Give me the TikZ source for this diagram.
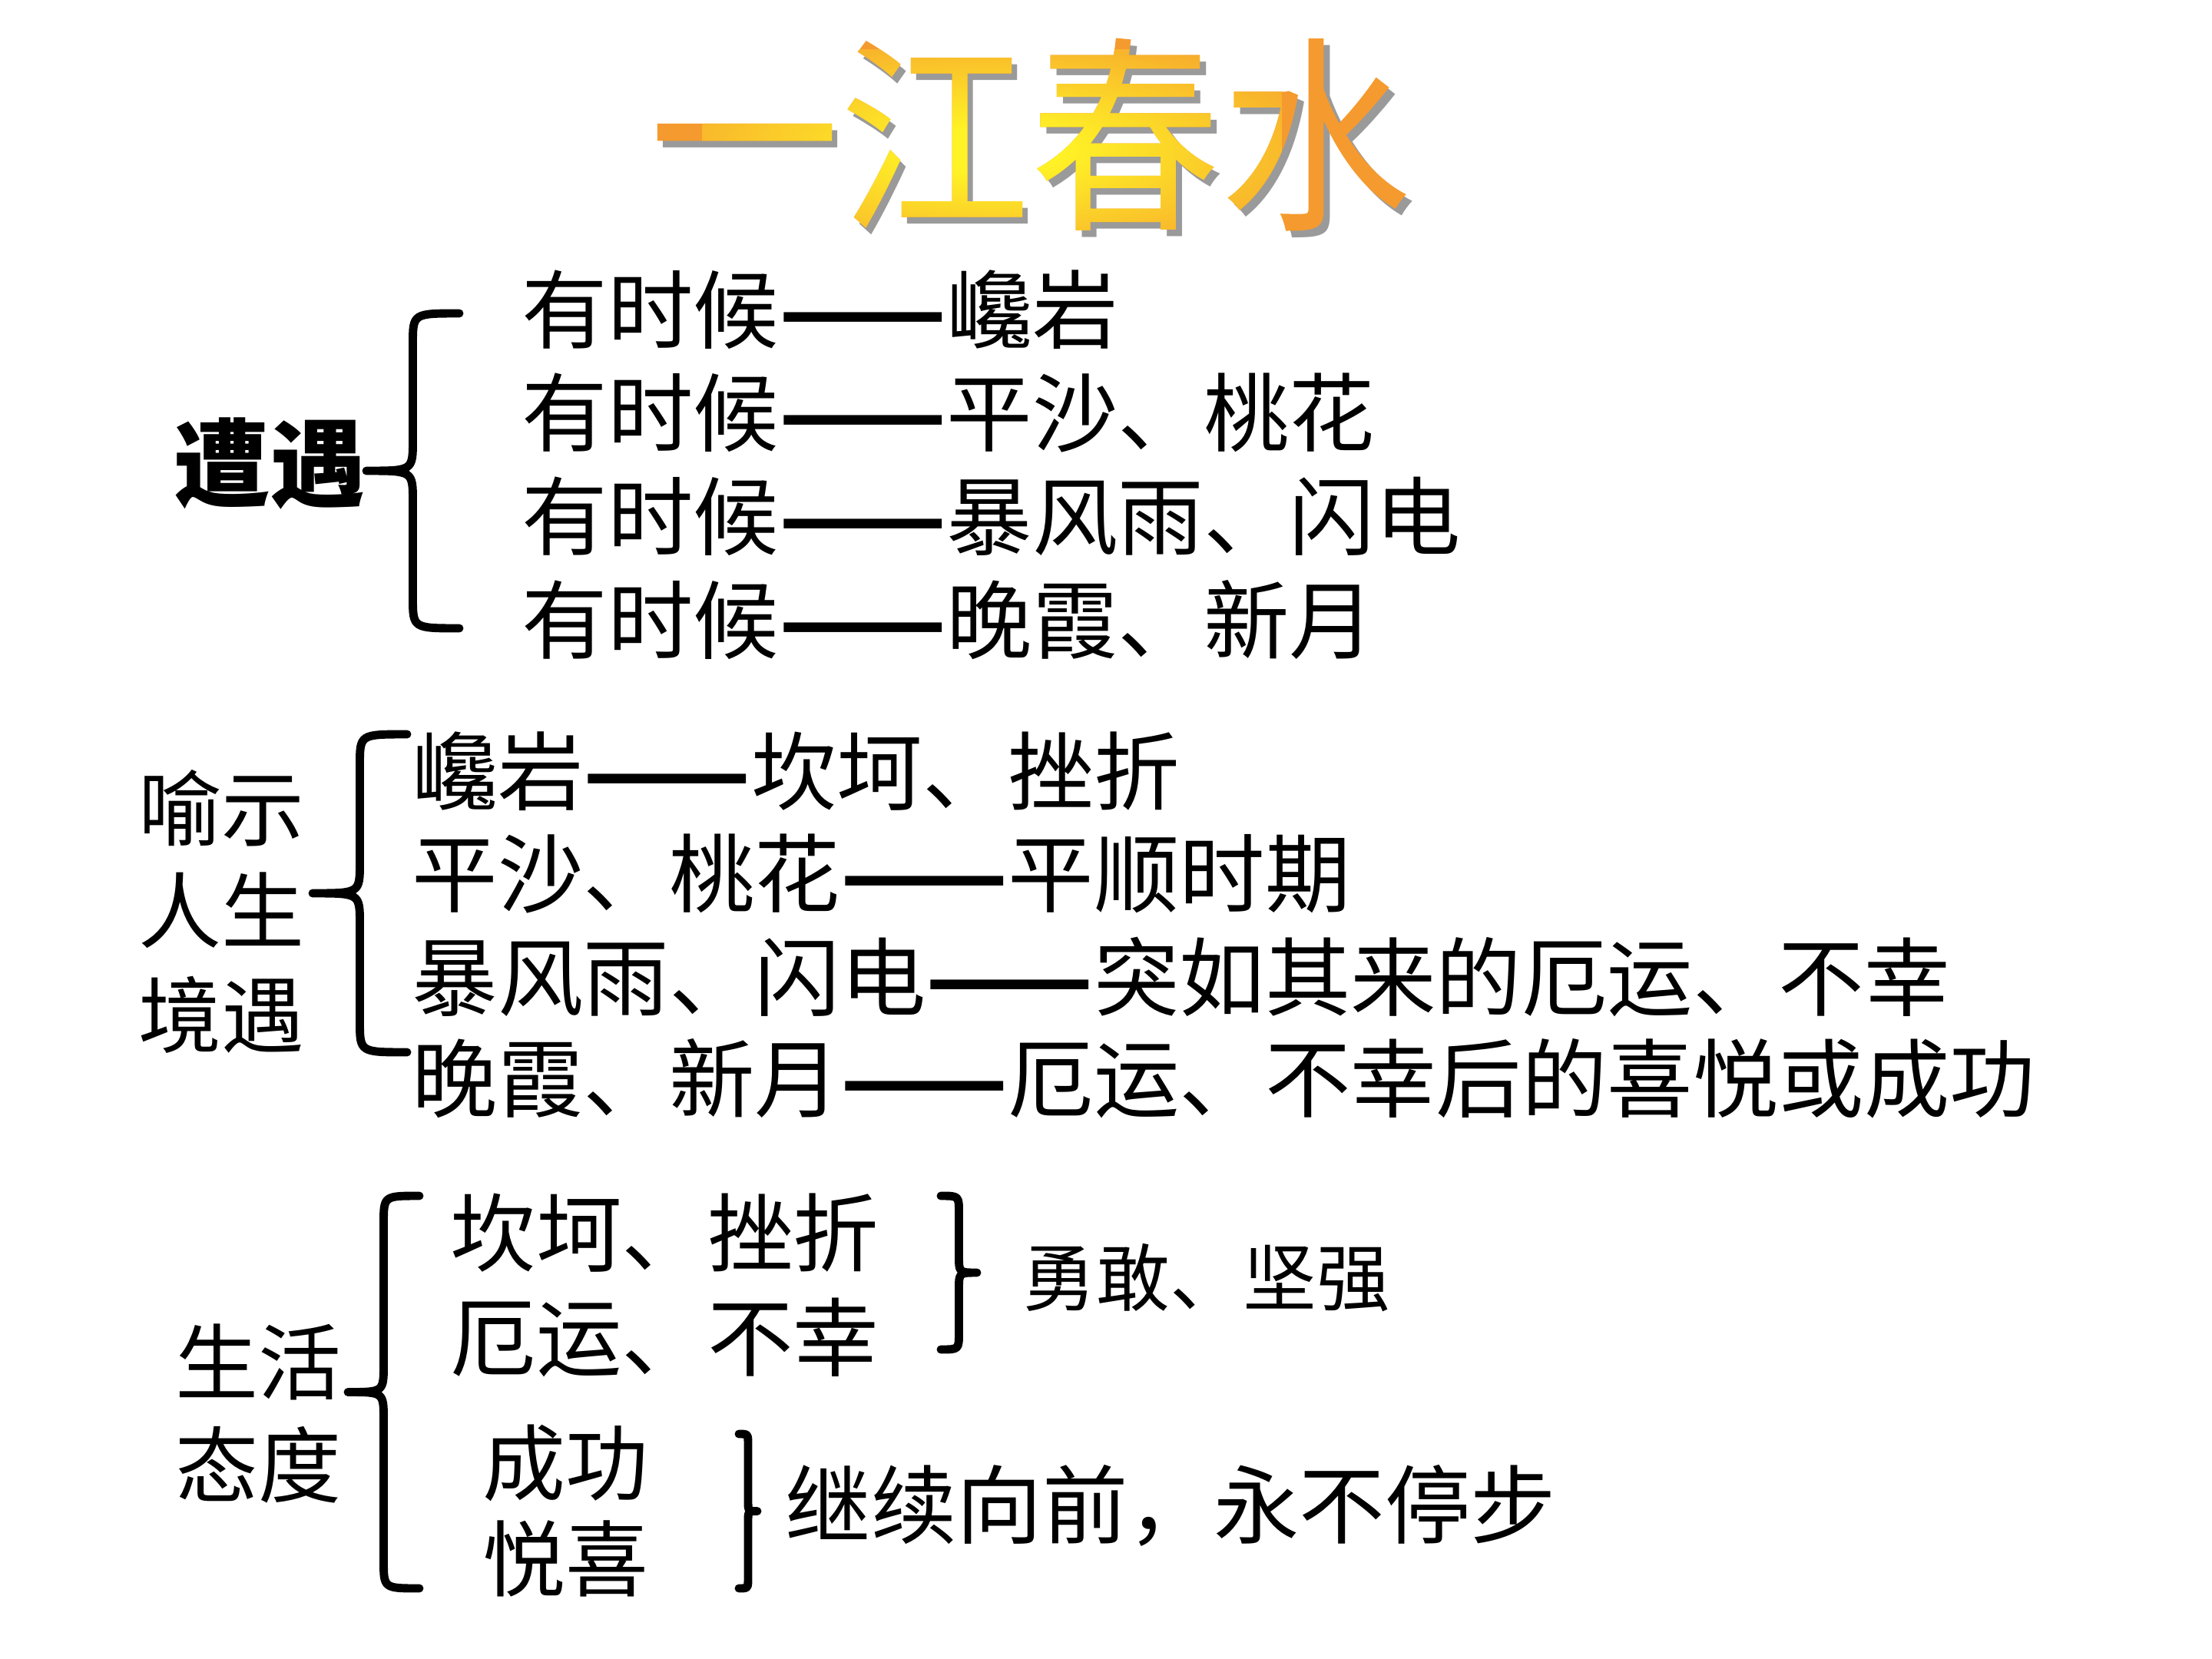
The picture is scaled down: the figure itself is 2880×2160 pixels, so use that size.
\documentclass[tikz,border=0pt]{standalone}
\usepackage{fontspec}
\usepackage{graphicx}
\newfontfamily\cjk{Noto Sans CJK SC}
\newfontfamily\titlecjk[FakeStretch=0.91]{Noto Sans CJK SC}
\usetikzlibrary{calc}
\definecolor{titleorange}{HTML}{F59A2E}
\definecolor{titleyellow}{HTML}{FFF226}
\definecolor{titlegray}{HTML}{9A9A9A}
\pgfdeclareradialshading{titleglow}{\pgfpoint{0bp}{0bp}}{color(0bp)=(titleyellow); color(6bp)=(titleyellow); color(36bp)=(titleorange); color(50bp)=(titleorange)}
\newcommand{\titlefont}{\titlecjk\fontsize{77.5}{80}\selectfont}
\newcommand{\dd}{\resizebox{1.96em}{\height}{\bfseries ——}}
\newsavebox{\titlebox}
\newdimen\titleW
\newdimen\titleH
% the title text is used as a clipping path (PDF text render mode 7) for a radial orange-yellow shading
\newcommand{\gradienttitle}{%
  \special{pdf:literal direct q 7 Tr}%
  \usebox{\titlebox}%
  \special{pdf:literal direct 0 Tr}%
  \kern-\titleW
  \raisebox{-\dp\titlebox}{\tikz[x=1pt, y=1pt, baseline=0pt]{%
    \useasboundingbox (0,0) rectangle (\titleW,\titleH);
    \fill[titleorange] (-10,-10) rectangle ({\titleW+10pt},{\titleH+10pt});
    \shade[shading=titleglow] ({0.45*\titleW-0.38*\titleW},{0.42*\titleH-0.52*\titleH}) rectangle ({0.45*\titleW+0.38*\titleW},{0.42*\titleH+0.52*\titleH});
  }}%
  \special{pdf:literal direct Q}}
\tikzset{
  titlenode/.style={inner sep=0pt, font=\titlefont},
  txt/.style={anchor=west, inner sep=0pt, text=black},
  fa/.style={txt, font=\cjk\fontsize{31.7}{38}\selectfont},
  fb/.style={txt, font=\cjk\bfseries\fontsize{35.5}{40}\selectfont},
  fc/.style={txt, font=\cjk\fontsize{30.7}{36}\selectfont},
  fd/.style={txt, font=\cjk\fontsize{27.2}{32}\selectfont},
  bracestyle/.style={line width=3.1pt, line cap=round, line join=round},
}
% #1 top coordinate, #2 bottom coordinate, #3 signed amplitude (px, negative = tip to the left), #4 curl radius (px)
\newcommand{\curlybrace}[4]{%
  \draw[bracestyle]
    (#1) .. controls ($(#1)+({#3/2},0)$) .. ($(#1)+({#3/2},#4)$)
    -- ($($(#1)!0.5!(#2)$)+({#3/2},-#4)$)
    .. controls ($($(#1)!0.5!(#2)$)+({#3/2},0)$) .. ($($(#1)!0.5!(#2)$)+(#3,0)$)
    .. controls ($($(#1)!0.5!(#2)$)+({#3/2},0)$) .. ($($(#1)!0.5!(#2)$)+({#3/2},#4)$)
    -- ($(#2)+({#3/2},-#4)$)
    .. controls ($(#2)+({#3/2},0)$) .. (#2);}
\begin{document}
\sbox{\titlebox}{\titlefont 一江春水}%
\titleW=\wd\titlebox
\titleH=\ht\titlebox
\advance\titleH by \dp\titlebox
\begin{tikzpicture}[x=0.01cm, y=-0.01cm]
\useasboundingbox (0,0) rectangle (2880,2160);
\fill[white] (0,0) rectangle (2880,2160);

% title: gray shadow, then the gradient-filled title
\node[titlenode, text=titlegray] (titleshadow) at (1349,184) {一江春水};
\node[titlenode] (title) at (1341,175) {\gradienttitle};

% section 1
\node[fb] (zaoyu) at (226,604) {遭遇};
\coordinate (b1t) at (598,408);
\coordinate (b1b) at (598,818);
\curlybrace{b1t}{b1b}{-121}{40}
\node[fa] (s1a) at (679,403) {有时候\dd 巉岩};
\node[fa] (s1b) at (679,538) {有时候\dd 平沙、桃花};
\node[fa] (s1c) at (679,672) {有时候\dd 暴风雨、闪电};
\node[fa] (s1d) at (679,807) {有时候\dd 晚霞、新月};

% section 2
\node[fc] (yushi) at (180,1052) {喻示};
\node[fc] (rensheng) at (180,1185) {人生};
\node[fc] (jingyu) at (180,1321) {境遇};
\coordinate (b2t) at (530,956);
\coordinate (b2b) at (530,1370);
\curlybrace{b2t}{b2b}{-123}{40}
\node[fa] (s2a) at (536,1004) {巉岩\dd 坎坷、挫折};
\node[fa] (s2b) at (536,1138) {平沙、桃花\dd 平顺时期};
\node[fa] (s2c) at (536,1272) {暴风雨、闪电\dd 突如其来的厄运、不幸};
\node[fa] (s2d) at (536,1404) {晚霞、新月\dd 厄运、不幸后的喜悦或成功};

% section 3
\node[fc] (shenghuo) at (228,1773) {生活};
\node[fc] (taidu) at (228,1907) {态度};
\coordinate (b3t) at (546,1557);
\coordinate (b3b) at (546,2068);
\curlybrace{b3t}{b3b}{-93}{36}
\node[fa] (s3a) at (586,1605) {坎坷、挫折};
\node[fa] (s3b) at (586,1741) {厄运、不幸};
\coordinate (b4t) at (1225,1557);
\coordinate (b4b) at (1225,1757);
\curlybrace{b4t}{b4b}{47}{22}
\node[fd] (yonggan) at (1331,1664) {勇敢、坚强};
\node[fc] (chenggong) at (628,1905) {成功};
\node[fc] (yuexi) at (628,2029) {悦喜};
\coordinate (b5t) at (962,1867);
\coordinate (b5b) at (962,2068);
\curlybrace{b5t}{b5b}{24}{14}
\node[fa] (jixu) at (1022,1960) {继续向前，永不停步};
\end{tikzpicture}
\end{document}
